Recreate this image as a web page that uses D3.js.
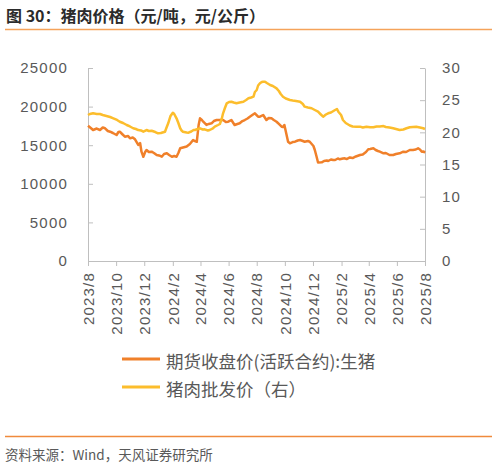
<!DOCTYPE html>
<html>
<head>
<meta charset="utf-8">
<script src="https://cdn.jsdelivr.net/npm/d3@7"></script>
<style>
  body { margin: 0; background: #fff; }
  svg { display: block; }
</style>
</head>
<body>
<svg id="chart" width="497" height="466"></svg>
<script>
// 期货收盘价(活跃合约):生猪, 元/吨 (left axis)
var futDates = [
  "2023-08-01","2023-08-07","2023-08-12","2023-08-20","2023-08-27",
  "2023-09-02","2023-09-07","2023-09-13","2023-09-18","2023-09-24",
  "2023-10-02","2023-10-06","2023-10-09","2023-10-14","2023-10-20","2023-10-27","2023-10-31",
  "2023-11-06","2023-11-11","2023-11-18","2023-11-22","2023-11-25","2023-11-29",
  "2023-12-03","2023-12-06","2023-12-11","2023-12-17","2023-12-22","2023-12-28",
  "2024-01-02","2024-01-08","2024-01-13","2024-01-19","2024-01-24","2024-01-30",
  "2024-02-04","2024-02-09","2024-02-13","2024-02-17","2024-02-23",
  "2024-03-02","2024-03-09","2024-03-16","2024-03-20","2024-03-24","2024-03-28","2024-03-31",
  "2024-04-04","2024-04-07","2024-04-14","2024-04-19","2024-04-25","2024-04-30",
  "2024-05-06","2024-05-13","2024-05-20","2024-05-26","2024-05-31",
  "2024-06-07","2024-06-14","2024-06-20","2024-06-25",
  "2024-07-01","2024-07-06","2024-07-12","2024-07-17","2024-07-24","2024-07-28",
  "2024-08-04","2024-08-08","2024-08-15","2024-08-22","2024-08-27",
  "2024-09-02","2024-09-07","2024-09-13","2024-09-18","2024-09-24","2024-09-27","2024-09-30",
  "2024-10-08","2024-10-12","2024-10-18","2024-10-23","2024-10-29",
  "2024-11-03","2024-11-09","2024-11-13","2024-11-20","2024-11-24",
  "2024-12-02","2024-12-05","2024-12-09","2024-12-12","2024-12-20","2024-12-25","2024-12-31",
  "2025-01-03","2025-01-09","2025-01-14","2025-01-18","2025-01-24","2025-01-28",
  "2025-02-04","2025-02-08","2025-02-12","2025-02-19","2025-02-25",
  "2025-03-04","2025-03-13","2025-03-19","2025-03-26","2025-03-31",
  "2025-04-04","2025-04-11","2025-04-16","2025-04-21","2025-04-25",
  "2025-05-03","2025-05-08","2025-05-16","2025-05-24","2025-05-30",
  "2025-06-07","2025-06-15","2025-06-21","2025-06-29",
  "2025-07-06","2025-07-12","2025-07-17","2025-07-21","2025-07-25","2025-07-29",
  "2025-08-01"
];
var futValues = [
  17520,17230,16970,17160,16970,
  17290,17190,16840,16750,16580,
  16320,16710,16750,16450,16100,16190,15890,
  16000,15760,15030,15280,14160,13510,
  14120,14380,14120,14160,13990,13730,
  13670,13510,13860,13950,13730,13510,
  13600,13510,13990,14600,14700,
  14830,15150,15670,15540,15450,17620,18480,
  18260,18040,17620,17750,17840,18130,
  18260,18260,18260,18000,18040,
  18260,17620,17750,17840,
  18130,18260,18460,18690,18980,19130,
  18690,18690,18910,18260,18520,
  18480,18260,18040,17750,17400,17360,17620,
  15450,15250,15410,15450,15610,
  15670,15540,15450,15540,15450,
  14900,14380,13470,12760,12780,12950,13020,
  12950,13150,13080,13080,13280,13170,
  13280,13300,13210,13410,13340,
  13540,13730,13800,14120,14470,
  14510,14600,14380,14250,14160,
  13950,13990,13730,13730,13860,
  13950,14160,14120,14380,
  14380,14440,14600,14440,14160,14180,
  14030
];

// 猪肉批发价, 元/公斤 (right axis)
var pigDates = [
  "2023-08-01","2023-08-05","2023-08-12","2023-08-20","2023-08-27",
  "2023-09-02","2023-09-10","2023-09-18","2023-09-25",
  "2023-10-03","2023-10-09","2023-10-16","2023-10-24","2023-10-31",
  "2023-11-07","2023-11-13","2023-11-18","2023-11-24","2023-11-29",
  "2023-12-06","2023-12-11","2023-12-17","2023-12-25","2023-12-31",
  "2024-01-06","2024-01-15","2024-01-18","2024-01-22","2024-01-27",
  "2024-02-01","2024-02-04","2024-02-09","2024-02-13","2024-02-17","2024-02-20","2024-02-23",
  "2024-03-02","2024-03-06","2024-03-12","2024-03-17","2024-03-20","2024-03-26","2024-03-31",
  "2024-04-06","2024-04-10","2024-04-17","2024-04-21","2024-04-28",
  "2024-05-02","2024-05-09","2024-05-13","2024-05-17","2024-05-20","2024-05-24","2024-05-28",
  "2024-06-02","2024-06-07","2024-06-12","2024-06-18","2024-06-25",
  "2024-07-03","2024-07-09","2024-07-14","2024-07-20","2024-07-25","2024-07-28",
  "2024-08-01","2024-08-04","2024-08-08","2024-08-12","2024-08-15","2024-08-19","2024-08-23","2024-08-30",
  "2024-09-05","2024-09-13","2024-09-18","2024-09-22","2024-09-27",
  "2024-10-03","2024-10-12","2024-10-18","2024-10-25",
  "2024-11-03","2024-11-09","2024-11-13","2024-11-20","2024-11-28",
  "2024-12-05","2024-12-12","2024-12-17","2024-12-23","2024-12-29",
  "2025-01-03","2025-01-09","2025-01-18","2025-01-22","2025-01-25","2025-01-31",
  "2025-02-04","2025-02-10","2025-02-19","2025-02-25",
  "2025-03-05","2025-03-13","2025-03-19","2025-03-27",
  "2025-04-04","2025-04-11","2025-04-18","2025-04-25",
  "2025-05-03","2025-05-08","2025-05-16","2025-05-24","2025-05-30",
  "2025-06-07","2025-06-15","2025-06-22","2025-06-29",
  "2025-07-06","2025-07-13","2025-07-21","2025-07-28",
  "2025-08-01"
];
var pigValues = [
  22.69,22.85,22.96,22.85,22.85,
  22.69,22.54,22.38,22.18,
  21.92,21.65,21.45,21.14,20.91,
  20.63,20.52,20.36,20.29,20.10,
  20.36,20.21,20.25,20.05,19.85,
  19.90,20.10,20.67,21.40,22.54,
  23.05,22.85,22.18,21.45,20.63,20.29,20.10,
  19.97,19.94,20.13,20.36,20.36,20.52,20.63,
  20.44,20.47,20.29,20.36,20.63,
  20.88,21.14,21.30,22.07,22.96,23.78,24.51,
  24.72,24.76,24.64,24.51,24.64,
  24.76,25.03,25.29,25.41,25.54,26.27,
  26.58,27.28,27.62,27.82,27.87,27.87,27.67,27.36,
  27.20,26.84,26.42,25.96,25.54,
  25.26,25.03,24.95,24.87,
  24.76,24.40,23.99,23.86,23.74,
  23.47,23.21,22.85,22.43,22.77,
  22.96,23.08,23.47,23.63,23.21,22.69,
  21.92,21.45,21.06,20.91,
  20.88,20.88,20.75,20.88,
  20.78,20.78,20.91,20.91,
  20.98,20.83,20.75,20.63,20.52,
  20.36,20.44,20.63,20.78,
  20.83,20.88,20.75,20.63,
  20.52
];

var xTickDates = ["2023-08-01","2023-10-01","2023-12-01","2024-02-01","2024-04-01","2024-06-01",
  "2024-08-01","2024-10-01","2024-12-01","2025-02-01","2025-04-01","2025-06-01","2025-08-01"];
var leftTicks = [0, 5000, 10000, 15000, 20000, 25000];
var rightTicks = [0, 5, 10, 15, 20, 25, 30];

var seriesNames = ["期货收盘价(活跃合约):生猪", "猪肉批发价（右）"];
var seriesColors = ["#f0802a", "#fcbd2c"];

(function() {
    var parse = d3.timeParse("%Y-%m-%d");
    var axisColor = "#bfbfbf", labelColor = "#595959";
    var numFont = "'Liberation Sans', Arial, sans-serif";
    var cjkFont = "'Noto Sans CJK SC', 'Noto Sans', sans-serif";

    var margin = {top: 68, left: 88},
        width = 337,
        height = 193;

    var svg = d3.select("#chart");

    // title + rules
    svg.append("text")
        .attr("x", 6).attr("y", 15)
        .attr("dominant-baseline", "central")
        .style("font-family", cjkFont).style("font-size", "16px").style("font-weight", "bold")
        .style("fill", "#2b2b2b")
        .text("图 30：猪肉价格（元/吨，元/公斤）");

    svg.append("line").attr("x1", 5).attr("x2", 492).attr("y1", 29.5).attr("y2", 29.5)
        .style("stroke", "#f5a35a").style("stroke-width", 1.5);

    svg.append("line").attr("x1", 5).attr("x2", 492).attr("y1", 436.5).attr("y2", 436.5)
        .style("stroke", "#f08a3c").style("stroke-width", 1.5);

    svg.append("text")
        .attr("x", 5).attr("y", 454)
        .attr("dominant-baseline", "central")
        .style("font-family", cjkFont).style("font-size", "13.5px")
        .style("fill", labelColor)
        .text("资料来源：Wind，天风证券研究所");

    var g = svg.append("g")
        .attr("transform", "translate(" + margin.left + "," + margin.top + ")");

    var x = d3.scaleTime()
        .domain([parse("2023-08-01"), parse("2025-08-01")])
        .range([0, width]);

    var yL = d3.scaleLinear().domain([0, 25000]).range([height, 0]);
    var yR = d3.scaleLinear().domain([0, 30]).range([height, 0]);

    function styleAxis(sel) {
        sel.select(".domain").style("stroke", axisColor);
        sel.selectAll(".tick line").style("stroke", axisColor);
        sel.selectAll(".tick text")
            .style("fill", labelColor)
            .style("font-family", numFont)
            .style("font-size", "15px")
            .style("letter-spacing", "1.2px");
    }

    var gx = g.append("g")
        .attr("transform", "translate(0," + height + ")")
        .call(d3.axisBottom(x)
            .tickValues(xTickDates.map(parse))
            .tickSizeInner(5).tickSizeOuter(0)
            .tickFormat(d3.timeFormat("%Y/%-m")));
    styleAxis(gx);
    gx.selectAll(".tick text")
        .attr("transform", "rotate(-90)")
        .attr("text-anchor", "end")
        .attr("x", -11).attr("y", 0).attr("dy", "0.35em");

    var gl = g.append("g")
        .call(d3.axisLeft(yL).tickValues(leftTicks)
            .tickFormat(d3.format("d"))
            .tickSizeInner(-5).tickSizeOuter(0).tickPadding(20));
    styleAxis(gl);

    var gr = g.append("g")
        .attr("transform", "translate(" + width + ",0)")
        .call(d3.axisRight(yR).tickValues(rightTicks)
            .tickFormat(d3.format("d"))
            .tickSizeInner(-5).tickSizeOuter(0).tickPadding(17));
    styleAxis(gr);

    var futData = futDates.map(function(d, i) { return {date: parse(d), value: futValues[i]}; });
    var pigData = pigDates.map(function(d, i) { return {date: parse(d), value: pigValues[i]}; });

    var lineL = d3.line().x(d => x(d.date)).y(d => yL(d.value));
    var lineR = d3.line().x(d => x(d.date)).y(d => yR(d.value));

    g.append("path").datum(futData)
        .attr("d", lineL)
        .style("fill", "none").style("stroke", seriesColors[0])
        .style("stroke-width", 2.5).style("stroke-linejoin", "round");

    g.append("path").datum(pigData)
        .attr("d", lineR)
        .style("fill", "none").style("stroke", seriesColors[1])
        .style("stroke-width", 2.5).style("stroke-linejoin", "round");

    // legend
    var legend = svg.append("g").attr("transform", "translate(122,359)");
    seriesNames.forEach(function(name, i) {
        var row = legend.append("g").attr("transform", "translate(0," + (i * 28) + ")");
        row.append("line").attr("x1", 0).attr("x2", 38).attr("y1", 0).attr("y2", 0)
            .style("stroke", seriesColors[i]).style("stroke-width", 2.8);
        row.append("text")
            .attr("x", 44).attr("y", 1)
            .attr("dominant-baseline", "central")
            .style("font-family", cjkFont).style("font-size", "17.5px")
            .style("fill", labelColor)
            .text(name);
    });
})();
</script>
</body>
</html>
